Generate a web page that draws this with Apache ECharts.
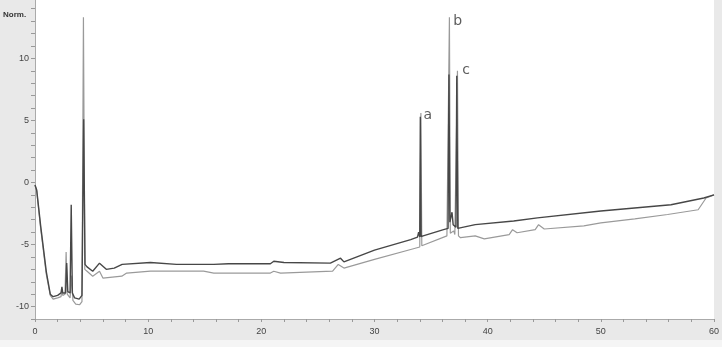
<!DOCTYPE html>
<html>
<head>
<meta charset="utf-8">
<script src="https://cdn.jsdelivr.net/npm/echarts@6/dist/echarts.min.js"></script>
<style>
  html, body { margin: 0; padding: 0; background: #e9e9e9; }
  #main { width: 722px; height: 347px; }
</style>
</head>
<body>
<div id="main"></div>
<script>
// 上面那条（深色）谱线
var darkTrace = [
  [0, -0.2], [0.15, -0.6], [0.5, -3.5], [1.0, -7.2], [1.35, -9.0], [1.6, -9.2], [2.0, -9.1],
  [2.3, -8.9], [2.38, -8.4], [2.45, -8.9], [2.7, -8.9], [2.8, -6.5], [2.9, -8.8], [3.1, -8.9],
  [3.2, -1.8], [3.3, -8.9], [3.5, -9.3], [3.9, -9.4], [4.15, -9.1], [4.3, 5.1], [4.42, -6.6],
  [4.6, -6.8], [5.1, -7.15], [5.7, -6.5], [6.3, -7.0], [7.0, -6.9], [7.7, -6.6], [10.2, -6.45],
  [12.5, -6.6], [15.8, -6.6], [17.1, -6.55], [20.8, -6.55], [21.1, -6.35], [22, -6.45],
  [26.1, -6.5], [27.0, -6.1], [27.3, -6.4], [30.0, -5.45], [33.2, -4.6], [33.8, -4.4],
  [33.9, -4.0], [34.0, -4.4], [34.05, 5.3], [34.12, -4.35], [34.3, -4.3], [36.1, -3.8],
  [36.5, -3.7], [36.58, 8.7], [36.66, -3.2], [36.85, -2.4], [36.95, -3.4], [37.2, -3.6],
  [37.27, 8.6], [37.36, -3.7], [38.9, -3.4], [42.3, -3.1], [44.4, -2.85], [50, -2.3],
  [56.2, -1.8], [59.1, -1.25], [60, -1.0]
];

// 下面那条（浅色）谱线
var lightTrace = [
  [0, -0.2], [0.15, -0.7], [0.5, -3.7], [1.0, -7.4], [1.35, -9.1], [1.6, -9.4], [2.0, -9.3],
  [2.3, -9.2], [2.38, -8.6], [2.45, -9.1], [2.65, -9.0], [2.75, -5.6], [2.85, -9.0], [3.1, -9.3],
  [3.25, -7.5], [3.35, -9.5], [3.6, -9.8], [3.95, -9.85], [4.15, -9.6], [4.28, 13.3], [4.4, -7.0],
  [4.6, -7.15], [5.1, -7.55], [5.7, -7.15], [6.0, -7.7], [7.67, -7.55], [8.1, -7.3],
  [10.2, -7.15], [14.9, -7.15], [15.8, -7.3], [20.8, -7.3], [21.1, -7.15], [21.7, -7.3],
  [26.3, -7.15], [26.8, -6.6], [27.3, -6.9], [30, -6.2], [33.2, -5.4], [34.0, -5.2],
  [34.1, 5.6], [34.18, -5.1], [36.4, -4.3], [36.55, -4.2], [36.62, 13.3], [36.7, -4.1],
  [37.0, -3.9], [37.1, -4.2], [37.33, 9.0], [37.42, -4.3], [37.6, -4.45], [38.9, -4.3],
  [39.7, -4.55], [41.9, -4.2], [42.2, -3.8], [42.6, -4.05], [44.2, -3.8], [44.5, -3.4],
  [45.0, -3.75], [48.5, -3.5], [50, -3.25], [53, -2.93], [55.9, -2.58], [58.6, -2.2],
  [59.3, -1.25], [60, -1.0]
];

// 峰标记 a b c
var peakLabels = [
  [34.7, 5.4, 'a'],
  [37.35, 13.0, 'b'],
  [38.1, 9.0, 'c']
];

var chart = echarts.init(document.getElementById('main'));

var option = {
  backgroundColor: '#e9e9e9',
  animation: false,
  title: {
    text: 'Norm.',
    left: -2,
    top: 6,
    textStyle: { fontSize: 8, fontWeight: 'bold', color: '#333', fontFamily: 'Liberation Sans' }
  },
  graphic: [{
    type: 'rect',
    left: 0,
    top: 340,
    shape: { width: 722, height: 7 },
    style: { fill: '#f5f5f5' },
    z: -1
  }],
  grid: {
    left: 35,
    right: 8,
    top: 0,
    bottom: 28,
    show: true,
    backgroundColor: '#fff',
    borderWidth: 0
  },
  xAxis: {
    type: 'value',
    min: 0,
    max: 60,
    interval: 2,
    axisLine: { onZero: false, lineStyle: { color: '#aaa' } },
    axisTick: { length: 3, lineStyle: { color: '#999' } },
    splitLine: { show: false },
    axisLabel: {
      margin: 8,
      fontSize: 9,
      color: '#444',
      fontFamily: 'Liberation Sans',
      formatter: function(v) { return v % 10 === 0 ? String(v) : ''; }
    }
  },
  yAxis: {
    type: 'value',
    min: -11,
    max: 14.7,
    interval: 1,
    axisLine: { show: true, onZero: false, lineStyle: { color: '#aaa' } },
    axisTick: { show: true, length: 4, lineStyle: { color: '#999' } },
    splitLine: { show: false },
    axisLabel: {
      margin: 6,
      fontSize: 9,
      color: '#444',
      fontFamily: 'Liberation Sans',
      showMaxLabel: false,
      formatter: function(v) { return v % 5 === 0 ? String(v) : ''; }
    }
  },
  series: [{
    type: 'line',
    data: lightTrace,
    symbol: 'none',
    lineStyle: { color: '#9a9a9a', width: 1.2 },
    z: 2
  }, {
    type: 'line',
    data: darkTrace,
    symbol: 'none',
    lineStyle: { color: '#474747', width: 1.4 },
    z: 3
  }, {
    type: 'scatter',
    data: peakLabels,
    symbolSize: 1,
    itemStyle: { color: 'rgba(0,0,0,0)' },
    label: {
      show: true,
      position: 'inside',
      fontSize: 14,
      color: '#333',
      fontFamily: 'DejaVu Sans',
      formatter: function(p) { return p.data[2]; }
    },
    z: 4
  }]
};

chart.setOption(option);
</script>
</body>
</html>
